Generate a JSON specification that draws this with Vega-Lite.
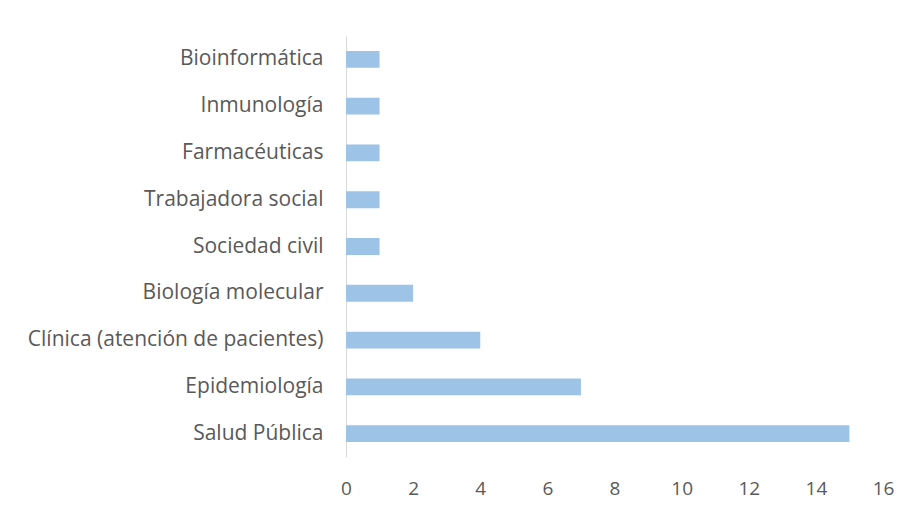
{
  "$schema": "https://vega.github.io/schema/vega-lite/v6.json",
  "width": 537,
  "height": 421,
  "autosize": {"type": "none"},
  "padding": {"left": 346, "top": 36, "right": 26, "bottom": 53},
  "background": "white",
  "title": {
    "text": "Gráfico 3. Área de pericia",
    "font": "Liberation Sans",
    "fontSize": 22,
    "fontWeight": "bold",
    "fontStyle": "italic",
    "color": "#000000",
    "anchor": "middle",
    "frame": "group",
    "dx": -150,
    "baseline": "alphabetic",
    "offset": 32
  },
  "data": {
    "values": [
      {"area": "Bioinformática", "n": 1},
      {"area": "Inmunología", "n": 1},
      {"area": "Farmacéuticas", "n": 1},
      {"area": "Trabajadora social", "n": 1},
      {"area": "Sociedad civil", "n": 1},
      {"area": "Biología molecular", "n": 2},
      {"area": "Clínica (atención de pacientes)", "n": 4},
      {"area": "Epidemiología", "n": 7},
      {"area": "Salud Pública", "n": 15}
    ]
  },
  "mark": {"type": "bar", "color": "#9DC3E6"},
  "encoding": {
    "y": {
      "field": "area",
      "type": "nominal",
      "sort": null,
      "scale": {"paddingInner": 0.64, "paddingOuter": 0.32},
      "axis": {
        "title": null,
        "ticks": false,
        "domain": true,
        "domainColor": "#D9D9D9",
        "domainWidth": 1,
        "labelFont": "Open Sans",
        "labelFontSize": 21,
        "labelColor": "#595959",
        "labelPadding": 23,
        "labelLimit": 400
      }
    },
    "x": {
      "field": "n",
      "type": "quantitative",
      "scale": {"domain": [0, 16], "nice": false},
      "axis": {
        "title": null,
        "values": [0, 2, 4, 6, 8, 10, 12, 14, 16],
        "ticks": false,
        "domain": false,
        "grid": false,
        "labelFont": "Open Sans",
        "labelFontSize": 19,
        "labelColor": "#595959",
        "labelPadding": 22,
        "labelFlush": false
      }
    }
  },
  "config": {"view": {"stroke": null}}
}
